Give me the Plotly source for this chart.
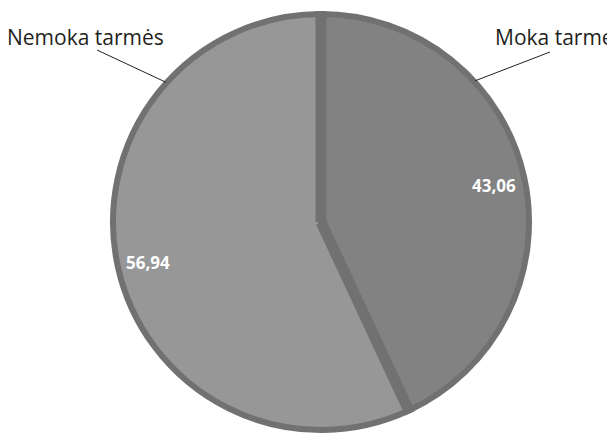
import math
import plotly.graph_objects as go

# ---- data ----
categories = ["Moka tarmę", "Nemoka tarmės"]
values = [43.06, 56.94]
value_labels = ["43,06", "56,94"]

# ---- layout constants (pixels, in window coordinates) ----
W, H = 615, 433
PAGE_MARGIN = 8            # default body margin of the html page
CX, CY = 321, 222          # pie centre
R = 208                     # pie radius (edge line centred on it)
BORDER = 6
DIVIDER = 11
slice_colors = ["#828282", "#979797"]
border_color = "#717171"
text_dark = "#231f20"

# leader label settings: angle on rim (deg clockwise from top), text anchor point
label_rim_angle = [47.5, 312.0]
label_line_end = [(550, 52), (97, 50)]
label_text_pos = [(493, 37), (166, 37)]
label_anchor = ["left", "right"]


def px(x):
    return (x - PAGE_MARGIN) / W


def py(y):
    return 1 - (y - PAGE_MARGIN) / H


def rim(angle_deg, r):
    a = math.radians(angle_deg)
    return CX + r * math.sin(a), CY - r * math.cos(a)


fig = go.Figure(go.Pie(
    labels=categories,
    values=values,
    sort=False,
    direction="clockwise",
    rotation=0,
    textinfo="none",
    hoverinfo="label+value",
    marker=dict(colors=slice_colors, line=dict(color=border_color, width=BORDER)),
    domain=dict(x=[px(CX - R), px(CX + R)], y=[py(CY + R), py(CY - R)]),
    showlegend=False,
))

total = sum(values)
shapes = []
annotations = []

# slice boundaries (thicker divider lines) and value labels
cum = 0.0
for v, lab in zip(values, value_labels):
    start = cum / total * 360
    mid = (cum + v / 2) / total * 360
    cum += v
    x1, y1 = rim(start, R + BORDER / 2)
    shapes.append(dict(type="line", xref="paper", yref="paper",
                       x0=px(CX), y0=py(CY), x1=px(x1), y1=py(y1),
                       line=dict(color=border_color, width=DIVIDER)))
    tx, ty = rim(mid, R * 0.85)
    annotations.append(dict(x=px(tx), y=py(ty + 2), xref="paper", yref="paper",
                            text=f"<b>{lab}</b>", showarrow=False,
                            font=dict(family="Open Sans", size=17, color="white"),
                            xanchor="center", yanchor="middle"))

# outside category labels with leader lines
for cat, ang, (lx, ly), (tx, ty), anc in zip(categories, label_rim_angle,
                                             label_line_end, label_text_pos, label_anchor):
    ex, ey = rim(ang, R + 1)
    shapes.append(dict(type="line", xref="paper", yref="paper",
                       x0=px(ex), y0=py(ey), x1=px(lx), y1=py(ly),
                       line=dict(color=text_dark, width=1)))
    annotations.append(dict(x=px(tx), y=py(ty), xref="paper", yref="paper",
                            text=cat, showarrow=False,
                            font=dict(family="Open Sans", size=21, color=text_dark),
                            xanchor=anc, yanchor="middle"))

fig.update_layout(
    width=W, height=H,
    margin=dict(l=0, r=0, t=0, b=0),
    paper_bgcolor="white",
    plot_bgcolor="white",
    shapes=shapes,
    annotations=annotations,
)

fig.write_html("out.html")
